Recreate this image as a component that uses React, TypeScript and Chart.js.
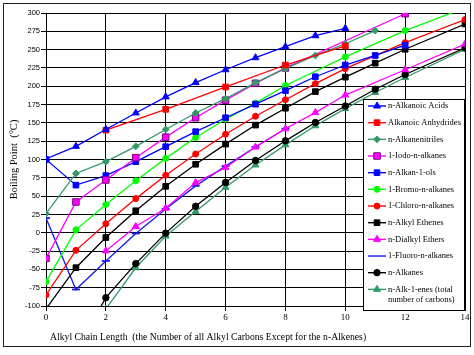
import React, { useEffect, useRef } from 'react';
import { Chart, registerables } from 'chart.js';

Chart.register(...registerables);

// ---- data (x = alkyl chain length, y = boiling point in °C) ----
const acidX = [0, 1, 2, 3, 4, 5, 6, 7, 8, 9, 10];
const acidY = [100.8, 118, 141, 163.5, 185.5, 205, 222.5, 239, 254, 269, 279];

const anhydrideX = [2, 4, 6, 8, 10];
const anhydrideY = [140, 168.5, 199, 229, 255];

const nitrileX = [0, 1, 2, 3, 4, 5, 6, 7, 8, 9, 10, 11];
const nitrileY = [26, 81, 97, 118, 141, 163.5, 183, 205, 224, 242, 258, 276];

const iodoX = [0, 1, 2, 3, 4, 5, 6, 7, 8, 12];
const iodoY = [-35, 42, 72, 102.5, 130.5, 157, 181, 204, 225, 299];

const alcoholX = [0, 1, 2, 3, 4, 5, 6, 7, 8, 9, 10, 11, 12];
const alcoholY = [100, 65, 78, 97, 117.5, 138, 157, 175.5, 194, 213, 229, 242, 256];

const bromoX = [0, 1, 2, 3, 4, 5, 6, 7, 8, 10, 12, 14];
const bromoY = [-67, 4, 38.5, 71, 101.5, 130, 155, 177, 201, 240, 276, 307];

const chloroX = [0, 1, 2, 3, 4, 5, 6, 7, 8, 9, 10, 12, 14];
const chloroY = [-85, -24, 12.3, 46.6, 78.5, 107.5, 134.5, 159, 181.5, 203.5, 224, 259.5, 291];

const etheneX = [0, 1, 2, 3, 4, 5, 6, 7, 8, 9, 10, 11, 12, 14];
const etheneY = [-104, -47.7, -6.5, 30, 63.4, 93.5, 121, 147, 170, 192.7, 212.5, 231.5, 250.5, 285];

const etherX = [2, 3, 4, 5, 6, 7, 8, 9, 10, 12, 14];
const etherY = [-24.8, 8.5, 33.5, 68.5, 89, 117, 142, 164, 188, 222.5, 257.5];

const fluoroX = [0, 1, 2, 3, 4, 5, 6, 7, 8];
const fluoroY = [20, -77.5, -38.5, -1, 32.5, 64, 91, 117, 142];

const alkaneX = [1, 2, 3, 4, 5, 6, 7, 8, 9, 10, 11, 12, 14];
const alkaneY = [-161.5, -88.6, -42.1, -0.5, 36.1, 68.7, 98.6, 125.5, 150.5, 173, 195.9, 216, 252.5];

const alkeneX = [2, 3, 4, 5, 6, 7, 8, 9, 10, 11, 12, 14];
const alkeneY = [-104, -47.8, -4.5, 29, 62, 92.5, 120, 146, 169.5, 191.5, 212, 250.5];

const seriesLabels = [
  ['n-Alkanoic Acids'],
  ['Alkanoic Anhydrides'],
  ['n-Alkanenitriles'],
  ['1-Iodo-n-alkanes'],
  ['n-Alkan-1-ols'],
  ['1-Bromo-n-alkanes'],
  ['1-Chloro-n-alkanes'],
  ['n-Alkyl Ethenes'],
  ['n-Dialkyl Ethers'],
  ['1-Fluoro-n-alkanes'],
  ['n-Alkanes'],
  ['n-Alk-1-enes (total', 'number of carbons)'],
];
const seriesX = [acidX, anhydrideX, nitrileX, iodoX, alcoholX, bromoX, chloroX, etheneX, etherX, fluoroX, alkaneX, alkeneX];
const seriesY = [acidY, anhydrideY, nitrileY, iodoY, alcoholY, bromoY, chloroY, etheneY, etherY, fluoroY, alkaneY, alkeneY];

const xTitle = 'Alkyl Chain Length  (the Number of all Alkyl Carbons Except for the n-Alkenes)';
const yTitle = 'Boiling Point  (°C)';

// ---- styles ----
type Sty = { line: string; fill: string; edge: string; shape: string; r: number; bw: number };
const styles: Sty[] = [
  { line: '#0000FF', fill: '#0000FF', edge: '#0000FF', shape: 'triangle', r: 4, bw: 1 },
  { line: '#FF0000', fill: '#FF0000', edge: '#FF0000', shape: 'rect', r: 4, bw: 1 },
  { line: '#339966', fill: '#339966', edge: '#339966', shape: 'rectRot', r: 3.4, bw: 1 },
  { line: '#FF00FF', fill: '#FF00FF', edge: '#800080', shape: 'rect', r: 4.6, bw: 1 },
  { line: '#0000FF', fill: '#0000FF', edge: '#0000FF', shape: 'rect', r: 4, bw: 1 },
  { line: '#00FF00', fill: '#00FF00', edge: '#00FF00', shape: 'circle', r: 3, bw: 1 },
  { line: '#FF0000', fill: '#FF0000', edge: '#FF0000', shape: 'circle', r: 3, bw: 1 },
  { line: '#000000', fill: '#000000', edge: '#000000', shape: 'rect', r: 4, bw: 1 },
  { line: '#FF00FF', fill: '#FF00FF', edge: '#FF00FF', shape: 'triangle', r: 4, bw: 1 },
  { line: '#1a1aE6', fill: '#1a1aE6', edge: '#1a1aE6', shape: 'line', r: 4, bw: 1.8 },
  { line: '#000000', fill: '#000000', edge: '#000000', shape: 'circle', r: 3.2, bw: 1 },
  { line: '#339966', fill: '#339966', edge: '#339966', shape: 'triangle', r: 4, bw: 1 },
];

function drawMarker(ctx: CanvasRenderingContext2D, s: Sty, x: number, y: number) {
  const r = s.r;
  ctx.save();
  ctx.fillStyle = s.fill;
  ctx.strokeStyle = s.edge;
  ctx.lineWidth = s.bw;
  ctx.beginPath();
  if (s.shape === 'circle') {
    ctx.arc(x, y, r, 0, Math.PI * 2);
  } else if (s.shape === 'rect') {
    const h = r * Math.SQRT1_2;
    ctx.rect(x - h, y - h, 2 * h, 2 * h);
  } else if (s.shape === 'rectRot') {
    ctx.moveTo(x, y - r);
    ctx.lineTo(x + r, y);
    ctx.lineTo(x, y + r);
    ctx.lineTo(x - r, y);
    ctx.closePath();
  } else if (s.shape === 'triangle') {
    ctx.moveTo(x, y - r);
    ctx.lineTo(x + Math.sin((2 * Math.PI) / 3) * r, y + r / 2);
    ctx.lineTo(x - Math.sin((2 * Math.PI) / 3) * r, y + r / 2);
    ctx.closePath();
  } else if (s.shape === 'line') {
    ctx.moveTo(x - r, y);
    ctx.lineTo(x + r, y);
    ctx.stroke();
    ctx.restore();
    return;
  }
  ctx.fill();
  ctx.stroke();
  ctx.restore();
}

const framePlugin = {
  id: 'frame',
  beforeDraw(chart: any) {
    const ctx = chart.ctx as CanvasRenderingContext2D;
    ctx.save();
    ctx.fillStyle = '#ffffff';
    ctx.fillRect(0, 0, chart.width, chart.height);
    ctx.strokeStyle = '#222222';
    ctx.lineWidth = 1;
    ctx.strokeRect(3.5, 3.5, 467, 343);
    ctx.restore();
  },
  afterDraw(chart: any) {
    const ctx = chart.ctx as CanvasRenderingContext2D;
    ctx.save();
    // x axis title
    ctx.fillStyle = '#000';
    ctx.font = '9.7px "Liberation Serif", serif';
    ctx.textBaseline = 'middle';
    ctx.textAlign = 'left';
    ctx.fillText(xTitle, 50, 337);

    // legend box
    const bx = 363.5, by = 99.5, bw = 101, bh = 211;
    ctx.fillStyle = '#ffffff';
    ctx.fillRect(bx, by, bw, bh);
    ctx.strokeStyle = '#000';
    ctx.lineWidth = 1;
    ctx.strokeRect(bx, by, bw, bh);
    ctx.font = '8.5px "Liberation Serif", serif';
    ctx.textBaseline = 'middle';
    seriesLabels.forEach((lab, i) => {
      const y = 106 + i * 16.67;
      const s = styles[i];
      ctx.strokeStyle = s.line;
      ctx.lineWidth = 1.4;
      ctx.beginPath();
      ctx.moveTo(368, y);
      ctx.lineTo(386, y);
      ctx.stroke();
      if (s.shape !== 'line') drawMarker(ctx, s, 377, y);
      ctx.fillStyle = '#000';
      lab.forEach((t, j) => ctx.fillText(t, 388, y + j * 10.7));
    });
    ctx.restore();
  },
};

export default function App() {
  const ref = useRef<HTMLCanvasElement | null>(null);

  useEffect(() => {
    if (!ref.current) return;
    const datasets = seriesLabels.map((lab, i) => {
      const s = styles[i];
      return {
        label: lab.join(' '),
        data: seriesX[i].map((x, k) => ({ x, y: seriesY[i][k] })),
        borderColor: s.line,
        backgroundColor: s.fill,
        borderWidth: 1.3,
        pointStyle: s.shape as any,
        pointRadius: s.r,
        pointHoverRadius: s.r,
        pointBorderWidth: s.bw,
        pointBorderColor: s.edge,
        pointBackgroundColor: s.fill,
        tension: 0,
        fill: false,
      };
    });

    const chart = new Chart(ref.current, {
      type: 'line',
      data: { datasets },
      plugins: [framePlugin],
      options: {
        animation: false,
        responsive: false,
        events: [],
        layout: { padding: { top: 13, right: 9, left: 0, bottom: 0 } },
        plugins: {
          legend: { display: false },
          tooltip: { enabled: false },
        },
        scales: {
          x: {
            type: 'linear',
            min: 0,
            max: 14,
            afterFit: (s: any) => { s.height = 49; },
            ticks: {
              stepSize: 2,
              color: '#000',
              padding: 1,
              font: { family: '"Liberation Serif", serif', size: 9 },
            },
            grid: { color: '#000', lineWidth: 1, tickLength: 5, drawTicks: true },
            border: { color: '#000', width: 1 },
            title: { display: false },
          },
          y: {
            type: 'linear',
            min: -100,
            max: 300,
            afterFit: (s: any) => { s.width = 46; },
            ticks: {
              stepSize: 25,
              color: '#000',
              padding: 1,
              font: { family: '"Liberation Sans", sans-serif', size: 7.5 },
            },
            grid: { color: '#000', lineWidth: 1, tickLength: 5, drawTicks: true },
            border: { color: '#000', width: 1 },
            title: {
              display: true,
              text: yTitle,
              color: '#000',
              padding: { top: 8, bottom: 0 },
              font: { family: '"Liberation Serif", serif', size: 10.5 },
            },
          },
        },
      },
    });
    return () => chart.destroy();
  }, []);

  return (
    <div style={{ position: 'fixed', left: 0, top: 0, width: 474, height: 355, background: '#fff' }}>
      <canvas ref={ref} width={474} height={355} style={{ width: 474, height: 355, display: 'block' }} />
    </div>
  );
}
